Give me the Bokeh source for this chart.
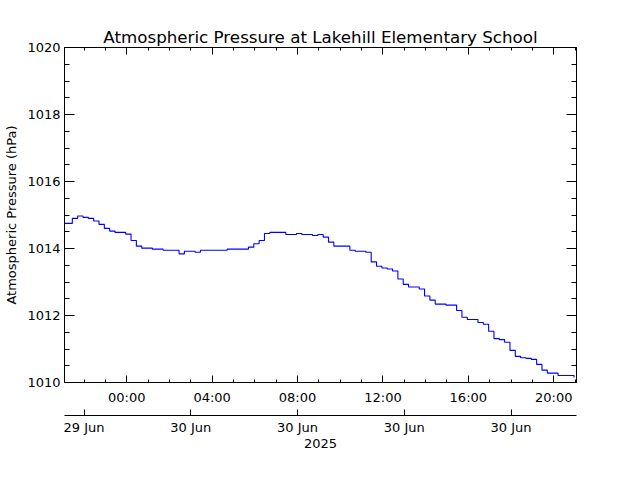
import pandas as pd
from bokeh.plotting import figure
from bokeh.models import (Range1d, DatetimeAxis, LinearAxis, FixedTicker,
                          DatetimeTickFormatter, CustomJSTickFormatter, ColumnDataSource)
from bokeh.embed import file_html
from bokeh.resources import INLINE

# ---------------- data ----------------
chart_title = "Atmospheric Pressure at Lakehill Elementary School"
y_title = "Atmospheric Pressure (hPa)"
year_label = "2025"

first_time = "2025-06-29 21:05"
series_start = "2025-06-29 21:27"
sample_step = "15min"

pressure = [
    1014.75,
    1014.90, 1014.97, 1014.93, 1014.90, 1014.82, 1014.72, 1014.60, 1014.52,
    1014.48, 1014.48, 1014.43, 1014.24, 1014.07, 1014.01, 1014.01, 1013.98,
    1013.98, 1013.95, 1013.95, 1013.95, 1013.84, 1013.92, 1013.92, 1013.89,
    1013.95, 1013.95, 1013.95, 1013.95, 1013.95, 1013.98, 1013.98, 1013.98,
    1013.98, 1014.04, 1014.14, 1014.24, 1014.45, 1014.48, 1014.48, 1014.48,
    1014.42, 1014.42, 1014.45, 1014.42, 1014.42, 1014.39, 1014.42, 1014.34,
    1014.19, 1014.07, 1014.07, 1014.07, 1013.95, 1013.92, 1013.92, 1013.89,
    1013.60, 1013.47, 1013.42, 1013.39, 1013.33, 1013.09, 1012.93, 1012.85,
    1012.85, 1012.79, 1012.58, 1012.46, 1012.34, 1012.34, 1012.31, 1012.31,
    1012.15, 1011.95, 1011.88, 1011.88, 1011.79, 1011.74, 1011.53, 1011.31,
    1011.28, 1011.20, 1010.96, 1010.78, 1010.74, 1010.72, 1010.69, 1010.54,
    1010.37, 1010.28, 1010.28, 1010.21, 1010.21, 1010.21, 1010.15,
]

x_start = "2025-06-29 21:05"
x_end = "2025-06-30 21:04"

hour_ticks = ["2025-06-30 00:00", "2025-06-30 04:00", "2025-06-30 08:00",
              "2025-06-30 12:00", "2025-06-30 16:00", "2025-06-30 20:00"]
hour_labels = ["00:00", "04:00", "08:00", "12:00", "16:00", "20:00"]
hour_minor_start = "2025-06-29 22:00"
hour_minor_end = "2025-06-30 21:00"

date_ticks = ["2025-06-29 22:00", "2025-06-30 03:00", "2025-06-30 08:00",
              "2025-06-30 13:00", "2025-06-30 18:00"]
date_labels = ["29 Jun", "30 Jun", "30 Jun", "30 Jun", "30 Jun"]

y_min, y_max = 1010, 1020
y_ticks = [1010, 1012, 1014, 1016, 1018, 1020]
y_minor_step = 0.5

# ---------------- helpers ----------------
def ms(s):
    return pd.Timestamp(s).value / 1e6

times = [pd.Timestamp(first_time)] + list(
    pd.date_range(series_start, periods=len(pressure) - 1, freq=sample_step))
src = ColumnDataSource(dict(t=times, p=pressure))

FONT = "DejaVu Sans"

p = figure(width=620, height=460, x_axis_type="datetime",
           x_range=Range1d(pd.Timestamp(x_start), pd.Timestamp(x_end)),
           y_range=Range1d(y_min, y_max),
           output_backend="svg", toolbar_location=None,
           min_border_left=64, min_border_right=44,
           min_border_top=47, min_border_bottom=78,
           title=chart_title)
p.outline_line_color = None
p.xgrid.visible = False
p.ygrid.visible = False
p.background_fill_color = "white"
p.border_fill_color = "white"

p.title.align = "center"
p.title.text_font = FONT
p.title.text_font_size = "16.7px"
p.title.text_font_style = "normal"
p.title.text_color = "black"
p.title.standoff = 1

p.step("t", "p", source=src, mode="after", line_color="#0000ff", line_width=1.1)

hour_minor = [ms(t) for t in pd.date_range(hour_minor_start, hour_minor_end, freq="1h")]
y_minor = [y_min + i * y_minor_step for i in range(int((y_max - y_min) / y_minor_step) + 1)]

blank_fmt = CustomJSTickFormatter(code="return '';")

def style_axis(ax):
    ax.axis_line_color = "black"
    ax.axis_line_width = 1
    ax.major_tick_line_color = "black"
    ax.minor_tick_line_color = "black"
    ax.major_tick_out = 0
    ax.minor_tick_out = 0
    ax.major_label_text_font = FONT
    ax.major_label_text_font_size = "13px"
    ax.major_label_text_color = "black"
    ax.axis_label_text_font = FONT
    ax.axis_label_text_font_style = "normal"
    ax.axis_label_text_font_size = "13px"
    ax.axis_label_text_color = "black"

hour_fmt = DatetimeTickFormatter(hours="%H:%M", hourmin="%H:%M", days="%H:%M",
                                 minutes="%H:%M", minsec="%H:%M")

# main bottom axis
xb = p.xaxis[0]
style_axis(xb)
xb.ticker = FixedTicker(ticks=[ms(t) for t in hour_ticks], minor_ticks=hour_minor)
xb.formatter = hour_fmt
xb.major_label_overrides = {ms(t): l for t, l in zip(hour_ticks, hour_labels)}
xb.major_tick_in = 7
xb.minor_tick_in = 3
xb.major_label_standoff = 7
xb.axis_label = " "
xb.axis_label_standoff = 0
xb.axis_label_text_font_size = "4px"

# second (date) bottom axis
xd = DatetimeAxis()
style_axis(xd)
xd.ticker = FixedTicker(ticks=[ms(t) for t in date_ticks], minor_ticks=[])
xd.formatter = DatetimeTickFormatter(hours="%d %b", hourmin="%d %b", days="%d %b",
                                     minutes="%d %b", minsec="%d %b")
xd.major_label_overrides = {ms(t): l for t, l in zip(date_ticks, date_labels)}
xd.major_tick_in = 6
xd.minor_tick_in = 0
xd.major_label_standoff = 4
xd.axis_label = year_label
xd.axis_label_standoff = 1
p.add_layout(xd, "below")

# top axis (ticks only)
xt = DatetimeAxis()
style_axis(xt)
xt.ticker = FixedTicker(ticks=[ms(t) for t in hour_ticks], minor_ticks=hour_minor)
xt.formatter = blank_fmt
xt.major_tick_in = 7
xt.minor_tick_in = 3
xt.major_label_standoff = 0
p.add_layout(xt, "above")

# left axis
yl = p.yaxis[0]
style_axis(yl)
yl.ticker = FixedTicker(ticks=y_ticks, minor_ticks=y_minor)
yl.major_tick_in = 10
yl.minor_tick_in = 5
yl.major_label_standoff = 4
yl.axis_label = y_title
yl.axis_label_standoff = 5

# right axis (ticks only)
yr = LinearAxis()
style_axis(yr)
yr.ticker = FixedTicker(ticks=y_ticks, minor_ticks=y_minor)
yr.formatter = blank_fmt
yr.major_tick_in = 10
yr.minor_tick_in = 5
yr.major_label_standoff = 0
p.add_layout(yr, "right")

open("out.html", "w").write(file_html(p, INLINE))
